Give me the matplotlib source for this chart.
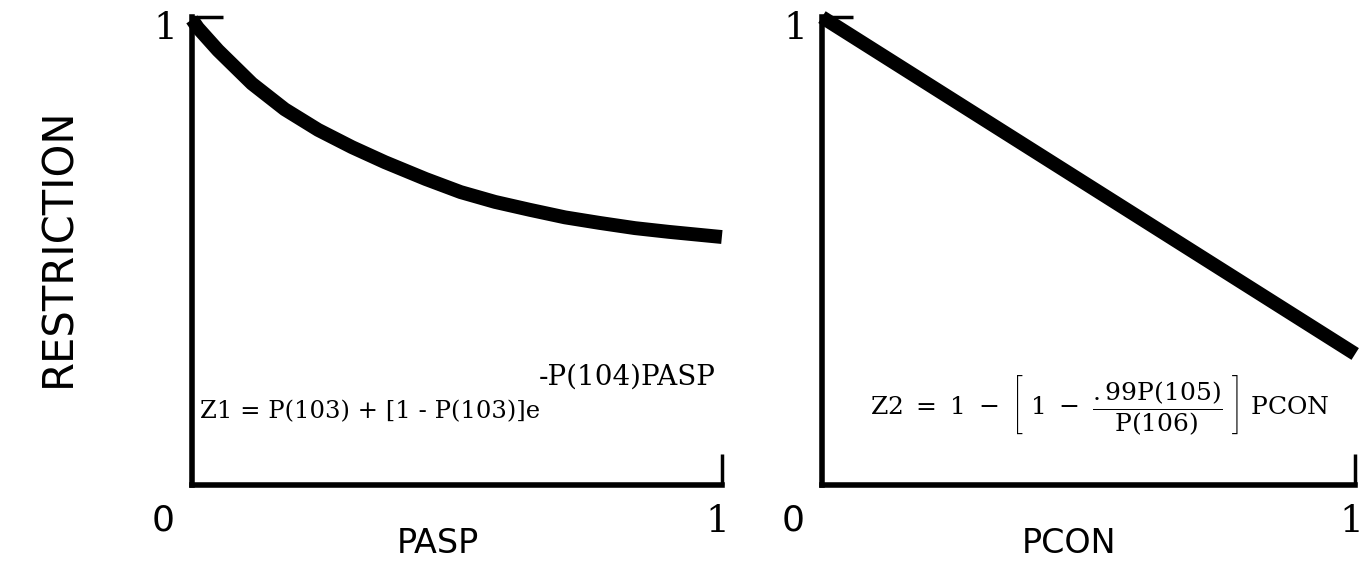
import numpy as np
import matplotlib
matplotlib.use("Agg")
import matplotlib.pyplot as plt

plt.rcParams['mathtext.fontset'] = 'custom'
plt.rcParams['mathtext.rm'] = 'DejaVu Serif'
plt.rcParams['mathtext.it'] = 'DejaVu Serif'

# left panel: restriction vs PASP
pasp = [0.0, 0.011, 0.049, 0.113, 0.175, 0.238, 0.302, 0.364, 0.441,
        0.507, 0.572, 0.638, 0.704, 0.77, 0.836, 0.9, 1.0]
z1 = [0.995, 0.977, 0.929, 0.858, 0.803, 0.759, 0.722, 0.690, 0.654,
      0.626, 0.605, 0.588, 0.572, 0.56, 0.549, 0.541, 0.53]

# right panel: restriction vs PCON (straight line)
pcon = [0.0, 1.0]
z2 = [1.0, 0.28]

x_ticks = ['0', '1']
y_label = 'RESTRICTION'
x_names = ['PASP', 'PCON']
serif = 'DejaVu Serif'


def setup(ax, xname):
    ax.set_xlim(0, 1)
    ax.set_ylim(0, 1)
    for s in ['top', 'right']:
        ax.spines[s].set_visible(False)
    for s in ['left', 'bottom']:
        ax.spines[s].set_linewidth(4)
        ax.spines[s].set_capstyle('projecting')
    ax.set_xticks([1])
    ax.set_yticks([1])
    ax.set_xticklabels([])
    ax.set_yticklabels([])
    ax.tick_params(direction='in', length=22, width=2.5)
    ax.text(-0.05, 0.975, '1', transform=ax.transAxes, fontsize=27,
            family=serif, ha='center', va='center')
    ax.text(-0.055, -0.075, x_ticks[0], transform=ax.transAxes, fontsize=26,
            ha='center', va='center')
    ax.text(0.992, -0.079, x_ticks[1], transform=ax.transAxes, fontsize=27,
            family=serif, ha='center', va='center')
    ax.text(0.464, -0.124, xname, transform=ax.transAxes, fontsize=24,
            ha='center', va='center')


fig = plt.figure(figsize=(13.62, 5.61), dpi=100)
ax1 = fig.add_axes([0.141, 0.1355, 0.389, 0.834])
ax2 = fig.add_axes([0.6035, 0.1355, 0.3915, 0.834])

setup(ax1, x_names[0])
setup(ax2, x_names[1])

ax1.plot(pasp, z1, color='black', lw=10, solid_capstyle='butt',
         solid_joinstyle='round', clip_on=False)
ax2.plot(pcon, z2, color='black', lw=10, solid_capstyle='butt', clip_on=False)

ax1.text(0.015, 0.143, 'Z1 = P(103) + [1 - P(103)]e', transform=ax1.transAxes,
         fontsize=17.5, family=serif, ha='left', va='baseline')
ax1.text(0.655, 0.214, '-P(104)PASP', transform=ax1.transAxes,
         fontsize=20, family=serif, ha='left', va='baseline')

ax2.text(0.09, 0.15,
         r'$\mathrm{Z2\ =\ 1\ -\ }\left[\ 1\ -\ \dfrac{.99\mathrm{P}(105)}{\mathrm{P}(106)}\ \right]\ \mathrm{PCON}$',
         transform=ax2.transAxes, fontsize=18, ha='left', va='baseline')

fig.text(0.0426, 0.56, y_label, rotation=90, fontsize=30,
         ha='center', va='center')

fig.savefig('out.png', dpi=100)
